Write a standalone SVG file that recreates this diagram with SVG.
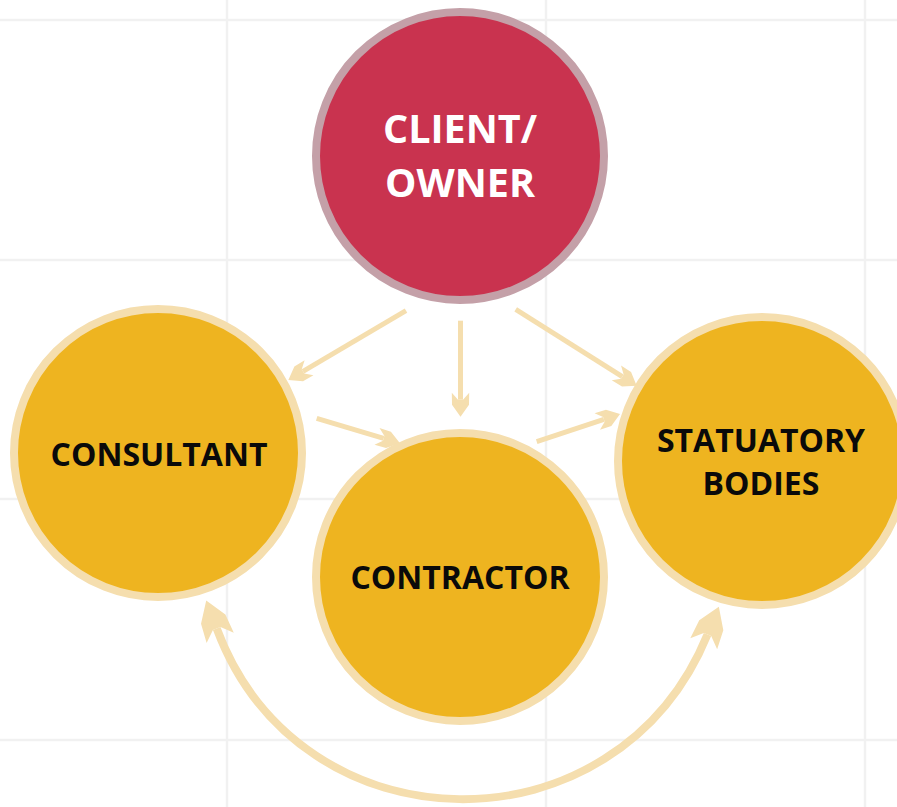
<svg xmlns="http://www.w3.org/2000/svg" width="897" height="807" viewBox="0 0 897 807">
<style>
.grid line{stroke:#F1F1F1;stroke-width:2.5}
.yellow{fill:#EEB420;stroke:#F5DEAE;stroke-width:8}
.red{fill:#C9334F;stroke:#C4A0A8;stroke-width:8}
.lbl{font-family:"Open Sans","Noto Sans","Liberation Sans",sans-serif;font-weight:bold;text-anchor:middle}
.dark{fill:#0A0A0A;font-size:32px}
.light{fill:#FFFFFF;font-size:39.5px}
.conn{fill:none;stroke:#F5DEAE;stroke-width:5}
.arc{fill:none;stroke:#F5DEAE;stroke-width:8}
</style>
<defs>
<marker id="ah" markerUnits="userSpaceOnUse" viewBox="-8 -10 26 20" refX="0" refY="0" markerWidth="26" markerHeight="20" orient="auto">
<path d="M17,0 L5,-8.5 L-7,-8.7 L0,-2.5 L0,2.5 L-7,8.7 L5,8.5 Z" fill="#F5DEAE"/>
</marker>
<marker id="bh" markerUnits="userSpaceOnUse" viewBox="-12 -16 44 32" refX="0" refY="0" markerWidth="44" markerHeight="32" orient="auto-start-reverse">
<path d="M30,0 L10,-13 L-10,-14.5 L0,-4 L0,4 L-10,14.5 L10,13 Z" fill="#F5DEAE"/>
</marker>
</defs>
<rect width="897" height="807" fill="#FFFFFF"/>
<g class="grid">
<line x1="227" y1="0" x2="227" y2="807"/>
<line x1="546" y1="0" x2="546" y2="807"/>
<line x1="865" y1="0" x2="865" y2="807"/>
<line x1="0" y1="20" x2="897" y2="20"/>
<line x1="0" y1="260" x2="897" y2="260"/>
<line x1="0" y1="499" x2="897" y2="499"/>
<line x1="0" y1="740" x2="897" y2="740"/>
</g>
<g id="connectors">
<line class="conn" x1="406" y1="310.7" x2="303" y2="371.4" marker-end="url(#ah)"/>
<line class="conn" x1="460.5" y1="320.7" x2="460.5" y2="399.7" marker-end="url(#ah)"/>
<line class="conn" x1="515.7" y1="309.3" x2="622.3" y2="376.6" marker-end="url(#ah)"/>
<line class="conn" x1="316.7" y1="418.3" x2="383.7" y2="438.4" marker-end="url(#ah)"/>
<line class="conn" x1="536.7" y1="441.7" x2="603.9" y2="419.4" marker-end="url(#ah)"/>
<path class="arc" d="M216.7,628.5 C300.4,853.2 616.7,856.8 707.5,634.5" marker-start="url(#bh)" marker-end="url(#bh)"/>
</g>
<g id="client">
<circle class="red" cx="460" cy="156" r="144"/>
<text class="lbl light" x="460" y="143">CLIENT/</text>
<text class="lbl light" x="460" y="197">OWNER</text>
</g>
<g id="consultant">
<circle class="yellow" cx="158" cy="453" r="144"/>
<text class="lbl dark" x="159" y="466">CONSULTANT</text>
</g>
<g id="contractor">
<circle class="yellow" cx="460" cy="577" r="144"/>
<text class="lbl dark" x="460" y="589">CONTRACTOR</text>
</g>
<g id="statutory">
<circle class="yellow" cx="762" cy="461" r="144"/>
<text class="lbl dark" x="761" y="452">STATUATORY</text>
<text class="lbl dark" x="761" y="495">BODIES</text>
</g>
</svg>
